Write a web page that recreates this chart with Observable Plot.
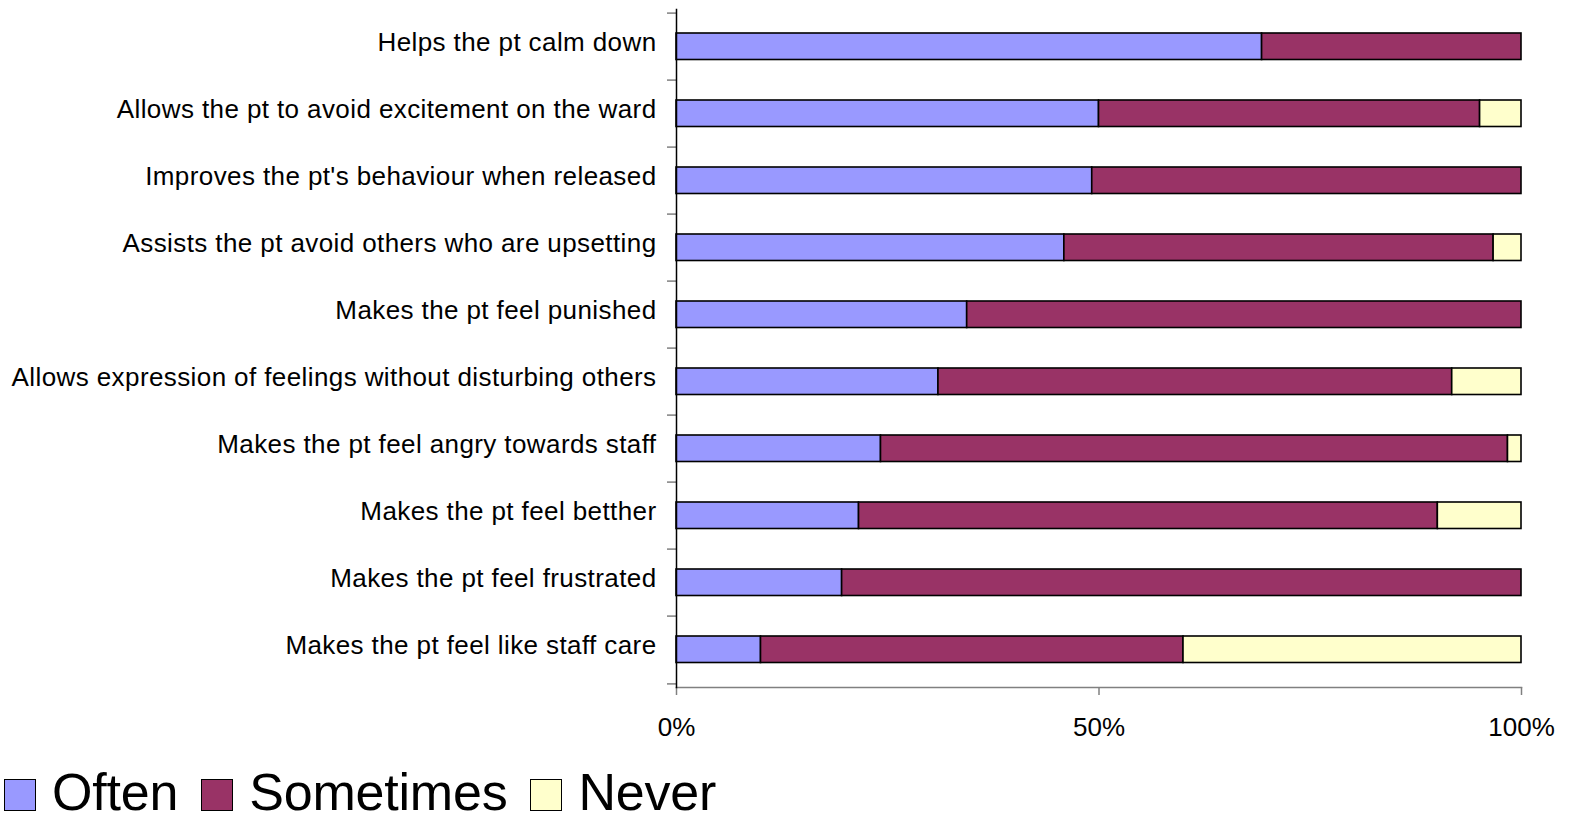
<!DOCTYPE html>
<html>
<head>
<meta charset="utf-8">
<script src="https://cdn.jsdelivr.net/npm/d3@7"></script>
<script src="https://cdn.jsdelivr.net/npm/@observablehq/plot@0.6"></script>
<style>
  html, body { margin: 0; padding: 0; background: #fff; }
  #chart svg { display: block; }
  .ch [aria-label="y-axis tick label"] text { letter-spacing: 0.4px; }
  #legend { display: flex; align-items: center; box-sizing: border-box; height: 73px; padding-top: 21px; font-family: "Liberation Sans", Arial, sans-serif; font-size: 52px; letter-spacing: -0.2px; color: #000; }
  .sw { width: 32px; height: 32px; border: 1.5px solid #000; box-sizing: border-box; margin-left: 4px; margin-right: 16px; flex: none; position: relative; top: 3px; }
  .item { display: flex; align-items: center; margin-right: 19px; line-height: 1; }
  .item span { display: block; height: 52px; line-height: 52px; }
</style>
</head>
<body>
<div id="chart"></div>
<div id="legend"></div>
<script>
const categories = [
  "Helps the pt calm down",
  "Allows the pt to avoid excitement on the ward",
  "Improves the pt's behaviour when released",
  "Assists the pt avoid others who are upsetting",
  "Makes the pt feel punished",
  "Allows expression of feelings without disturbing others",
  "Makes the pt feel angry towards staff",
  "Makes the pt feel betther",
  "Makes the pt feel frustrated",
  "Makes the pt feel like staff care"
];
const series = ["Often", "Sometimes", "Never"];
const often     = [69.3, 50.0, 49.2, 45.9, 34.4, 31.0, 24.2, 21.6, 19.6, 10.0];
const sometimes = [30.7, 45.1, 50.8, 50.8, 65.6, 60.8, 74.2, 68.5, 80.4, 50.0];
const never     = [ 0.0,  4.9,  0.0,  3.3,  0.0,  8.2,  1.6,  9.9,  0.0, 40.0];
const colors = ["#9999FF", "#993366", "#FFFFCC"];
const xTicks = [0, 0.5, 1];

const values = [often, sometimes, never];
const data = [];
categories.forEach((c, i) => {
  series.forEach((s, j) => {
    data.push({category: c, response: s, share: values[j][i] / 100});
  });
});

const W = 1569, H = 745, mTop = 9, mBottom = 58;
const step = (H - mTop - mBottom) / categories.length;

const chart = Plot.plot({
  className: "ch",
  width: W,
  height: H,
  marginLeft: 676,
  marginRight: 48,
  marginTop: mTop,
  marginBottom: mBottom,
  style: {fontFamily: "'Liberation Sans', Arial, sans-serif", background: "#fff", color: "#000"},
  x: {domain: [0, 1]},
  y: {domain: categories, padding: 0},
  color: {domain: series, range: colors},
  marks: [
    Plot.barX(data, Plot.stackX({
      x: "share", y: "category", fill: "response",
      stroke: "#000", strokeWidth: 1.6,
      insetTop: 20, insetBottom: 20.5, insetLeft: 0, insetRight: 0
    })),
    Plot.axisY({tickSize: 0, tickPadding: 20, fontSize: 26, label: null, dy: -4}),
    Plot.axisY({tickSize: 9, text: null, label: null, dy: -step / 2, stroke: "#808080", strokeWidth: 1.5}),
    Plot.axisY({ticks: [categories[categories.length - 1]], tickSize: 9, text: null, label: null, dy: step / 2, stroke: "#808080", strokeWidth: 1.5}),
    Plot.axisX({ticks: xTicks, tickFormat: d3.format(".0%"), tickSize: 8, tickPadding: 22, fontSize: 26, label: null, stroke: "#808080", strokeWidth: 1.5}),
    Plot.frame({anchor: "bottom", stroke: "#808080", strokeWidth: 1.5}),
    Plot.frame({anchor: "left", stroke: "#000", strokeWidth: 1.5})
  ]
});
document.getElementById("chart").appendChild(chart);

const legend = document.getElementById("legend");
series.forEach((s, j) => {
  const item = document.createElement("div");
  item.className = "item";
  const sw = document.createElement("div");
  sw.className = "sw";
  sw.style.background = colors[j];
  const t = document.createElement("span");
  t.textContent = s;
  item.appendChild(sw);
  item.appendChild(t);
  legend.appendChild(item);
});
</script>
</body>
</html>
